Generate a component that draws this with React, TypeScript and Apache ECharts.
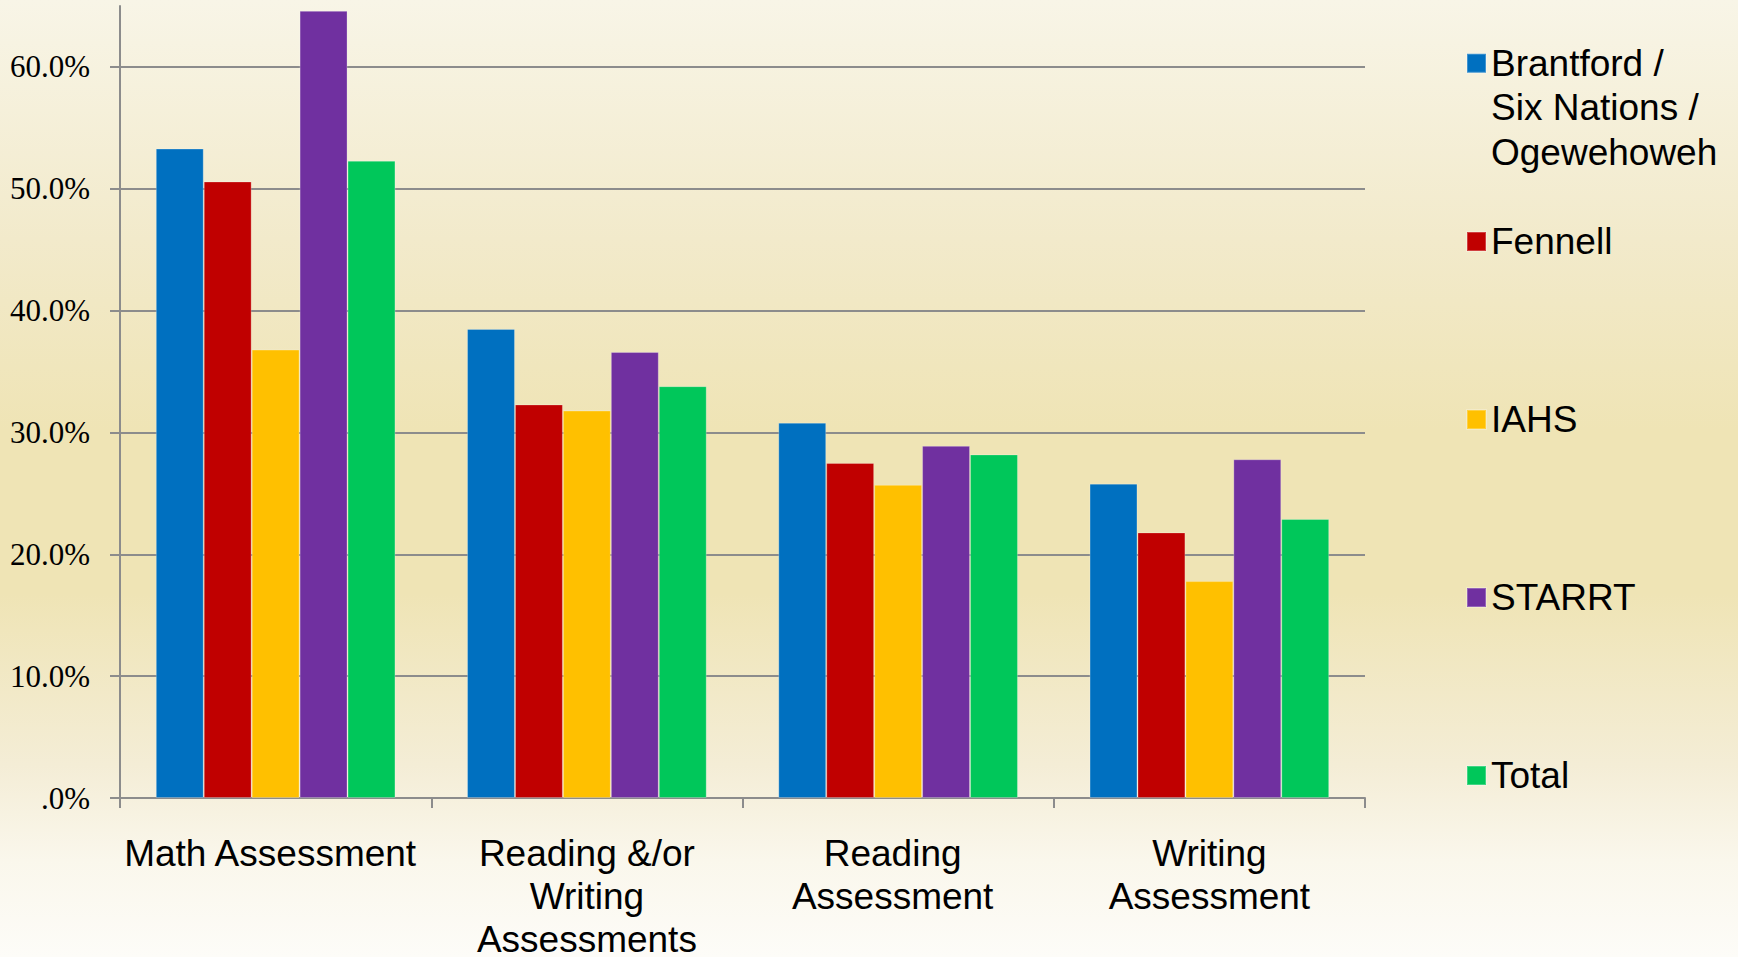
import React, { useEffect, useRef } from "react";
import * as echarts from "echarts";

// Assessment categories along the x axis
const categories: string[] = [
  "Math Assessment",
  "Reading &/or\nWriting\nAssessments",
  "Reading\nAssessment",
  "Writing\nAssessment",
];

// Share of students (%) per site and assessment
const brantford: number[] = [53.3, 38.5, 30.8, 25.8];
const fennell: number[] = [50.6, 32.3, 27.5, 21.8];
const iahs: number[] = [36.8, 31.8, 25.7, 17.8];
const starrt: number[] = [64.6, 36.6, 28.9, 27.8];
const total: number[] = [52.3, 33.8, 28.2, 22.9];

const seriesNames: string[] = [
  "Brantford / Six Nations / Ogewehoweh",
  "Fennell",
  "IAHS",
  "STARRT",
  "Total",
];
const seriesValues: number[][] = [brantford, fennell, iahs, starrt, total];
const seriesColors: string[] = ["#0070C0", "#C00000", "#FFC000", "#7030A0", "#00C75A"];

// Y axis tick values (%)
const yTicks: number[] = [0, 10, 20, 30, 40, 50, 60];

export default function App() {
  const ref = useRef<HTMLDivElement | null>(null);

  useEffect(() => {
    if (!ref.current) return;
    const chart = echarts.init(ref.current, undefined, { renderer: "svg" });

    const legendText = {
      fontFamily: "'Liberation Sans', Arial, sans-serif",
      fontSize: 37,
      lineHeight: 44.5,
      color: "#000000",
    };

    const xLabelFont = {
      fontFamily: "'Liberation Sans', Arial, sans-serif",
      fontSize: 37,
      lineHeight: 43,
      color: "#000000",
    };

    chart.setOption({
      animation: false,
      backgroundColor: "transparent",
      grid: {
        left: 120,
        right: 373,
        top: 6,
        bottom: 159,
        containLabel: false,
        outerBoundsMode: "none",
      },
      legend: [
        {
          data: [seriesNames[0]],
          orient: "vertical",
          left: 1466,
          top: -48,
          padding: 0,
          itemWidth: 19,
          itemHeight: 19,
          icon: "rect",
          selectedMode: false,
          textStyle: legendText,
          formatter: () => "\n\nBrantford /\nSix Nations /\nOgewehoweh",
        },
        {
          data: seriesNames.slice(1),
          orient: "vertical",
          left: 1466,
          top: 219.25,
          padding: 0,
          itemGap: 133.5,
          itemWidth: 19,
          itemHeight: 19,
          icon: "rect",
          selectedMode: false,
          textStyle: legendText,
        },
      ],
      xAxis: {
        type: "category",
        data: categories,
        axisLine: { lineStyle: { color: "#8c8c8c", width: 2 } },
        axisTick: { show: true, length: 10, lineStyle: { color: "#8c8c8c", width: 2 } },
        axisLabel: {
          interval: 0,
          margin: 34,
          ...xLabelFont,
          formatter: (v: string, i: number) =>
            i === 0 || i === 2 ? "{shift|" + v + "}" : v,
          rich: {
            shift: { ...xLabelFont, padding: [0, 11, 0, 0] },
          },
        },
      },
      yAxis: {
        type: "value",
        min: 0,
        max: 65,
        interval: 10,
        axisLine: { show: true, lineStyle: { color: "#8c8c8c", width: 2 } },
        axisTick: {
          show: true,
          length: 10,
          customValues: yTicks,
          lineStyle: { color: "#8c8c8c", width: 2 },
        },
        splitLine: { show: true, lineStyle: { color: "#8c8c8c", width: 2 } },
        axisLabel: {
          customValues: yTicks,
          margin: 30,
          fontFamily: "'Liberation Serif', 'Times New Roman', serif",
          fontSize: 31,
          color: "#000000",
          formatter: (v: number) => (v === 0 ? ".0%" : v.toFixed(1) + "%"),
        },
      },
      series: seriesNames.map((name, i) => ({
        name,
        type: "bar",
        data: seriesValues[i],
        barGap: "0%",
        barCategoryGap: "23%",
        itemStyle: {
          color: seriesColors[i],
          borderColor: "rgba(255,255,255,0.25)",
          borderWidth: 1,
        },
      })),
    });

    return () => chart.dispose();
  }, []);

  return (
    <div
      ref={ref}
      style={{
        position: "absolute",
        left: 0,
        top: 0,
        width: 1738,
        height: 957,
        background:
          "linear-gradient(to bottom, #F8F5E7 0%, #F2EACB 25%, #EFE4B5 45%, #EFE4B5 62%, #F4EDD6 80%, #FAF7EC 90%, #FDFCF8 100%)",
      }}
    />
  );
}
